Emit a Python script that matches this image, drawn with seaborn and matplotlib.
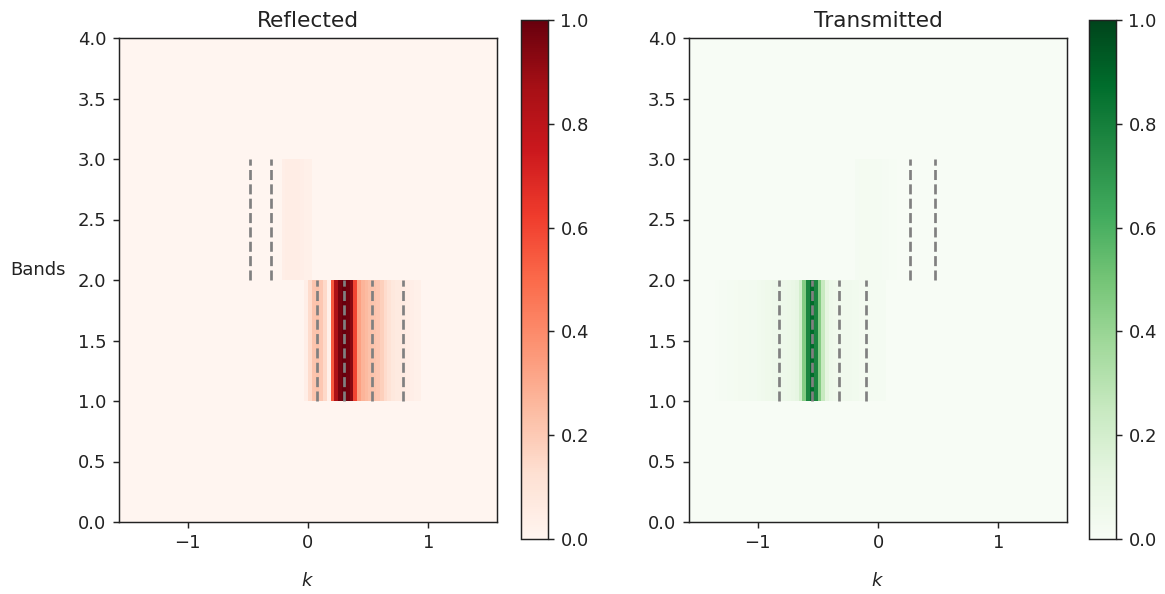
import numpy as np
import matplotlib
matplotlib.use("Agg")
import matplotlib.pyplot as plt
import seaborn as sns

# k sampling of the Brillouin zone [-pi/2, pi/2]
N_K = 100
K_MIN, K_MAX = -np.pi / 2, np.pi / 2
N_BANDS = 4

k_ticks = [-1, 0, 1]
k_tick_labels = ["\u22121", "0", "1"]
band_ticks = [0.0, 0.5, 1.0, 1.5, 2.0, 2.5, 3.0, 3.5, 4.0]
cbar_ticks = [0.0, 0.2, 0.4, 0.6, 0.8, 1.0]

# Reflected intensity, band 1 (lower) and band 2 (upper), first sampled k
refl_lower_k0 = -0.03
refl_lower = [0.04, 0.14, 0.22, 0.23, 0.21, 0.15, 0.03, 0.55, 0.85, 0.97,
              1.00, 0.98, 0.93, 0.60, 0.33, 0.27, 0.25, 0.23, 0.22, 0.21,
              0.18, 0.14, 0.11, 0.08, 0.07, 0.07, 0.06, 0.05, 0.04, 0.03,
              0.03]
refl_upper_k0 = -0.22
refl_upper = [0.04, 0.05, 0.05, 0.05, 0.05, 0.04, 0.03, 0.03]

# Transmitted intensity
trans_lower_k0 = -1.35
trans_lower = [0.010, 0.015, 0.015, 0.020, 0.020,
               0.025, 0.030, 0.030, 0.030, 0.035, 0.035, 0.040,
               0.05, 0.06, 0.06, 0.07, 0.07, 0.07, 0.07, 0.08, 0.09, 0.11,
               0.20, 0.45, 0.78, 0.88, 0.78, 0.45, 0.25, 0.12,
               0.07, 0.06, 0.05, 0.05, 0.05, 0.05, 0.04, 0.04,
               0.03, 0.03, 0.03, 0.02, 0.02, 0.02, 0.02]
trans_upper_k0 = -0.19
trans_upper = [0.020, 0.025, 0.025, 0.025, 0.020, 0.020, 0.020, 0.015,
               0.015, 0.010, 0.010]

# Mode wavevectors (dashed markers) per band
refl_lower_modes = [0.075, 0.30, 0.53, 0.79]
refl_upper_modes = [-0.48, -0.31]
trans_lower_modes = [-0.82, -0.55, -0.32, -0.10]
trans_upper_modes = [0.27, 0.47]

dk = (K_MAX - K_MIN) / N_K

FS = 13      # tick / axis label font size
TITLE_FS = 15.6


def k_to_col(k):
    return (np.asarray(k, dtype=float) - K_MIN) / dk


def band_matrix(lower, lower_k0, upper, upper_k0):
    z = np.zeros((N_BANDS, N_K))
    c = int(round(float(k_to_col(lower_k0))))
    z[1, c:c + len(lower)] = lower
    c = int(round(float(k_to_col(upper_k0))))
    z[2, c:c + len(upper)] = upper
    return z


W, H = 1165, 594
fig = plt.figure(figsize=(W / 100, H / 100), dpi=100)


def rect(x0, y0, x1, y1):
    return [x0 / W, 1 - y1 / H, (x1 - x0) / W, (y1 - y0) / H]


panels = [
    ("Reflected", "Reds",
     band_matrix(refl_lower, refl_lower_k0, refl_upper, refl_upper_k0),
     refl_lower_modes, refl_upper_modes,
     rect(119, 38, 497, 522), rect(521, 20, 548, 539), True),
    ("Transmitted", "Greens",
     band_matrix(trans_lower, trans_lower_k0, trans_upper, trans_upper_k0),
     trans_lower_modes, trans_upper_modes,
     rect(689, 38, 1067, 522), rect(1089, 20, 1116, 539), False),
]

for title, cmap, z, lower_modes, upper_modes, ax_rect, cb_rect, show_ylabel in panels:
    ax = fig.add_axes(ax_rect)
    cax = fig.add_axes(cb_rect)
    sns.heatmap(z, ax=ax, cbar_ax=cax, cmap=cmap, vmin=0, vmax=1,
                xticklabels=False, yticklabels=False)
    ax.set_xlim(0, N_K)
    ax.set_ylim(0, N_BANDS)
    for spine in ax.spines.values():
        spine.set_visible(True)
        spine.set_linewidth(1.05)
        spine.set_color("#222222")

    ax.vlines(k_to_col(lower_modes), 1, 2, colors="gray",
              linestyles="--", linewidth=1.95)
    ax.vlines(k_to_col(upper_modes), 2, 3, colors="gray",
              linestyles="--", linewidth=1.95)

    ax.set_xticks(k_to_col(k_ticks))
    ax.set_xticklabels(k_tick_labels, rotation=0, fontsize=FS)
    ax.set_yticks(band_ticks)
    ax.set_yticklabels([f"{t:.1f}" for t in band_ticks], rotation=0,
                       fontsize=FS)
    ax.tick_params(length=4.5, width=1.05, pad=4.5, color="#222222",
                   labelcolor="#222222")

    ax.set_title(title, fontsize=TITLE_FS, pad=7.8, color="#222222")
    ax.set_xlabel("$k$", fontsize=FS, color="#222222")
    ax.xaxis.set_label_coords(0.5, -0.103)
    ax.xaxis.label.set_va("top")
    if show_ylabel:
        ax.set_ylabel("Bands", rotation=0, fontsize=FS, va="center",
                      ha="center", color="#222222")
        ax.yaxis.set_label_coords(-0.214, 0.52)
    else:
        ax.set_ylabel("")

    cb = ax.collections[0].colorbar
    cb.outline.set_visible(True)
    cb.outline.set_linewidth(1.05)
    cb.outline.set_edgecolor("#222222")
    cb.set_ticks(cbar_ticks)
    cb.set_ticklabels([f"{t:.1f}" for t in cbar_ticks])
    cax.tick_params(length=4.5, width=1.05, pad=4.5, labelsize=FS,
                    color="#222222", labelcolor="#222222")

fig.savefig("out.png", dpi=100)
